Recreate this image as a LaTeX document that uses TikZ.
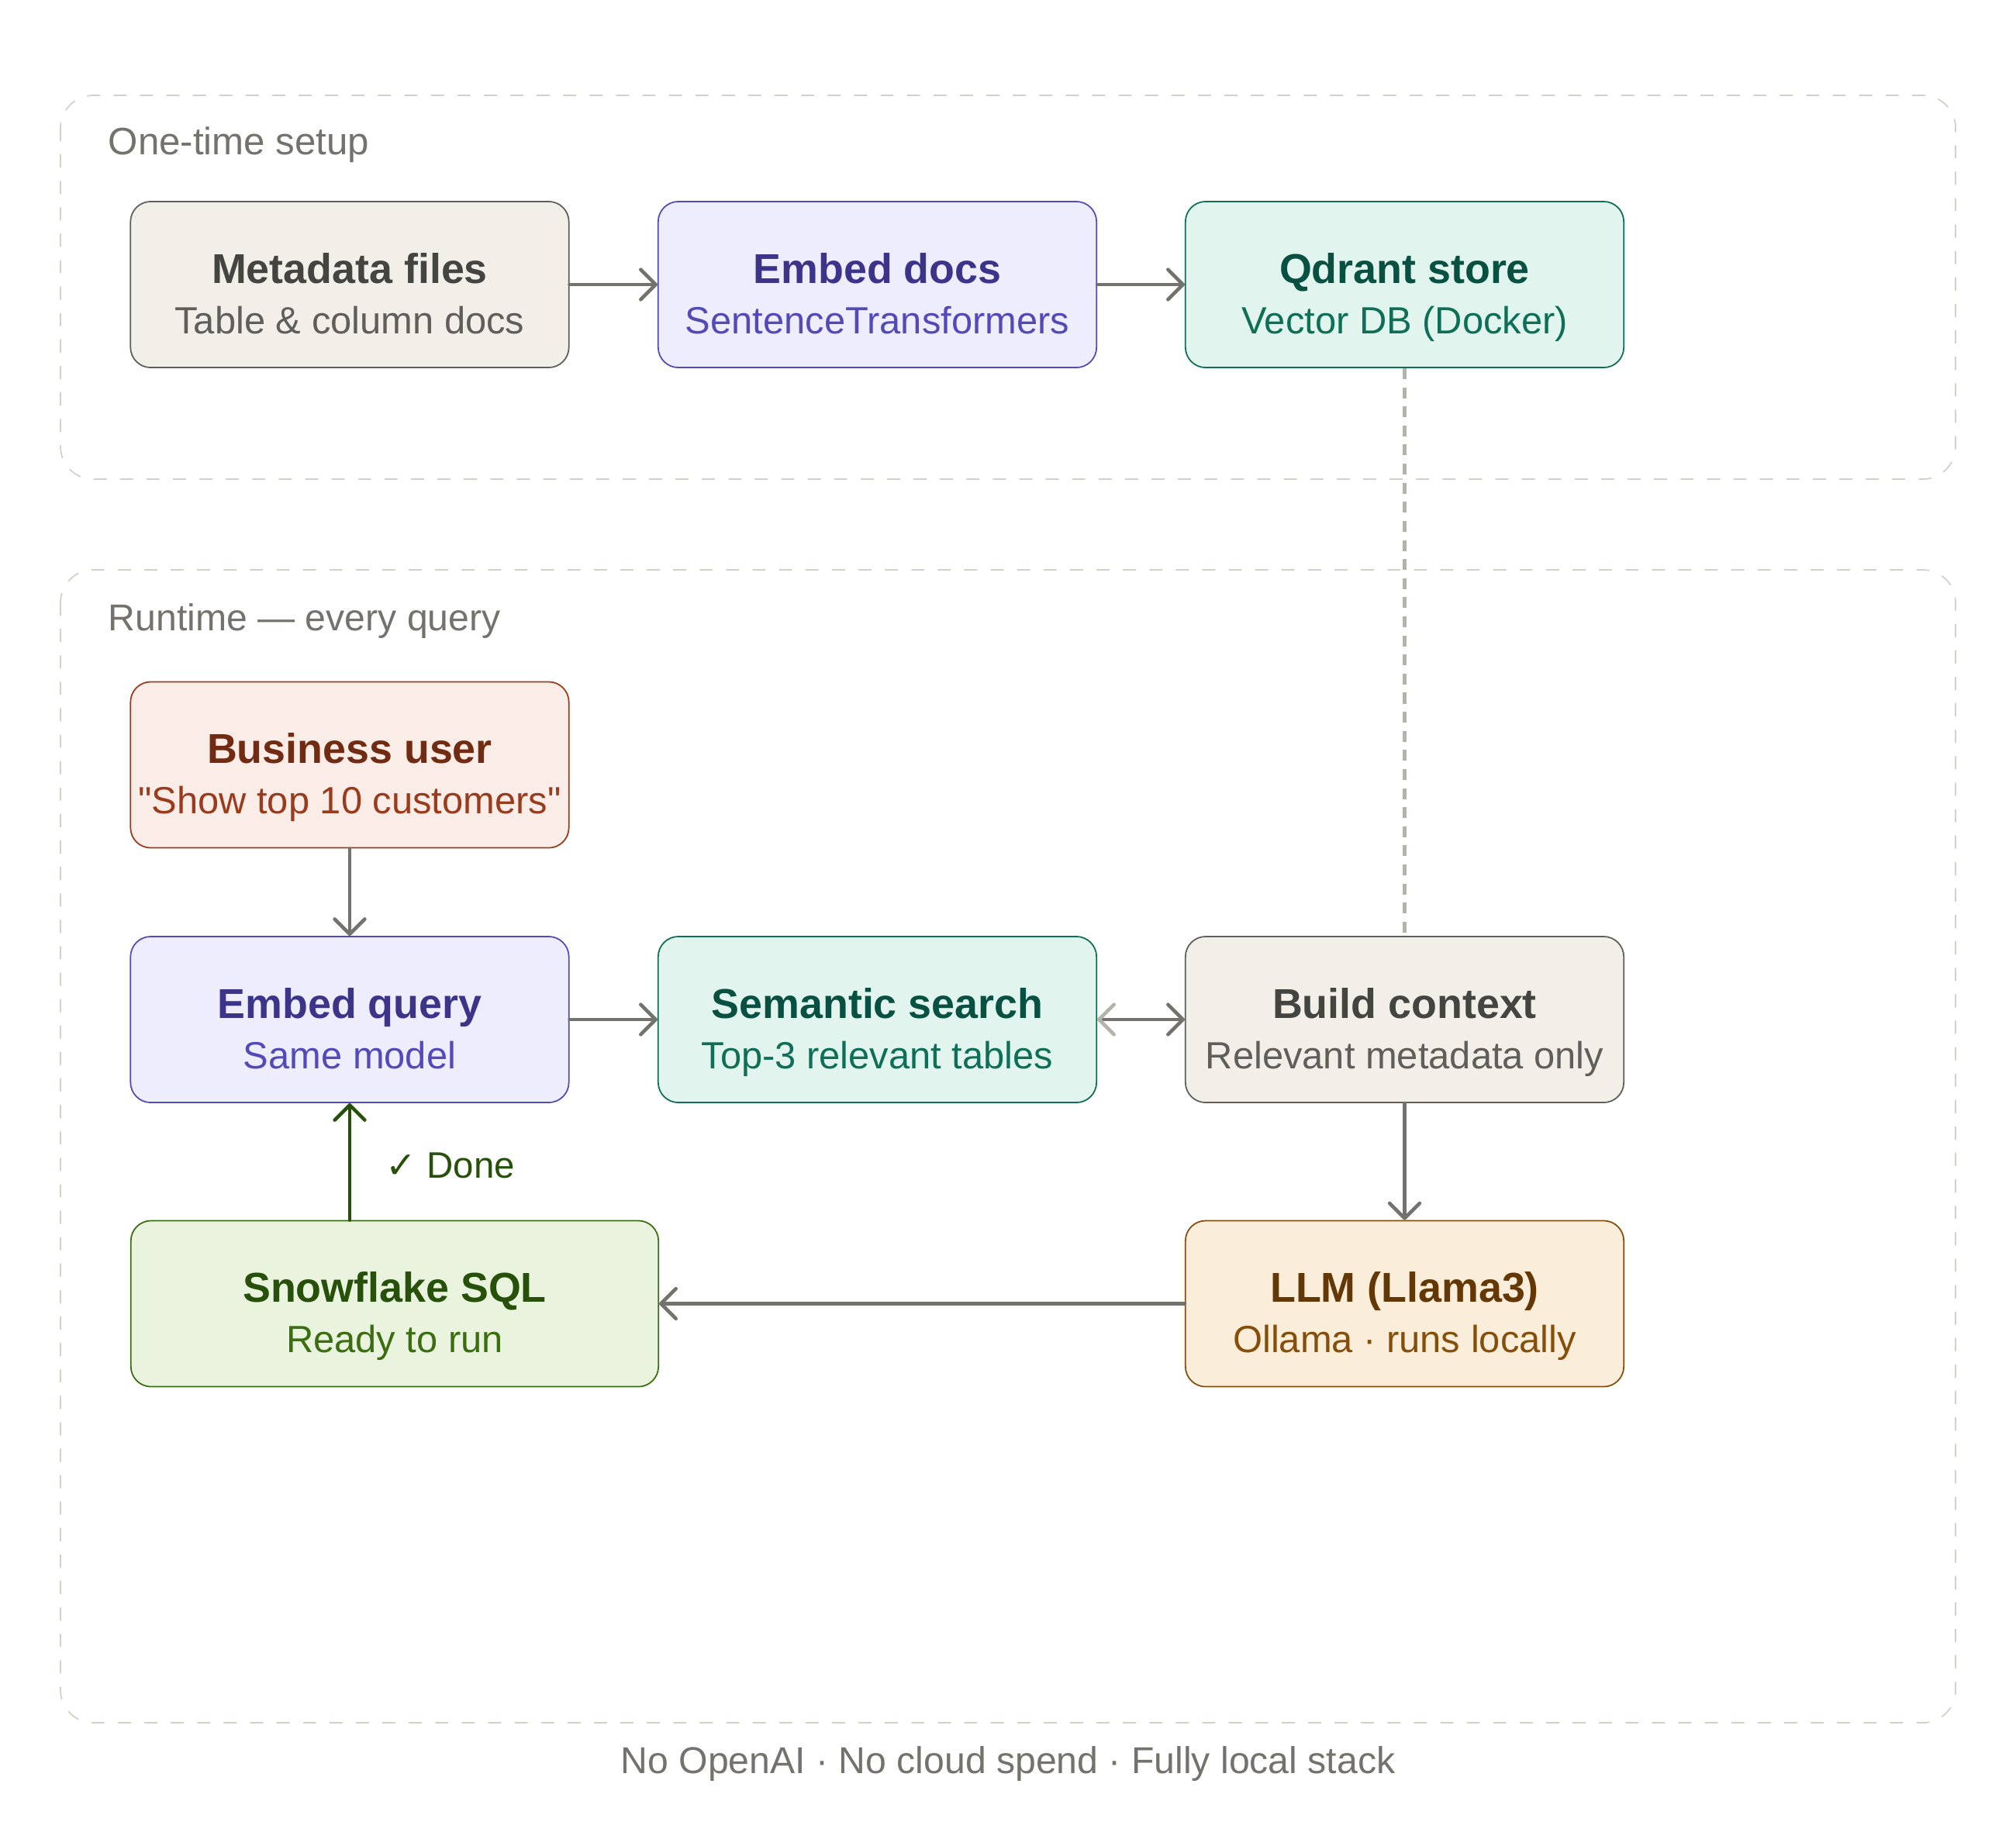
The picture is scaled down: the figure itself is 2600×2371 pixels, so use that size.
\documentclass[tikz,border=0pt]{standalone}
\usepackage{fontspec}
\setmainfont{Liberation Sans}
\newfontfamily\symbolfont{DejaVu Sans}
\usetikzlibrary{arrows.meta}

\definecolor{frameLine}{HTML}{D3D1C7}
\definecolor{labelGray}{HTML}{73726C}
\definecolor{arrowGray}{HTML}{73726C}
\definecolor{dashGray}{HTML}{B4B2A9}
\definecolor{grayFill}{HTML}{F1EFE8}
\definecolor{grayLine}{HTML}{5F5E5A}
\definecolor{grayTitle}{HTML}{444441}
\definecolor{purpleFill}{HTML}{EEEDFE}
\definecolor{purpleLine}{HTML}{534AB7}
\definecolor{purpleTitle}{HTML}{3C3489}
\definecolor{tealFill}{HTML}{E1F5EE}
\definecolor{tealLine}{HTML}{0F6E56}
\definecolor{tealTitle}{HTML}{085041}
\definecolor{coralFill}{HTML}{FAECE7}
\definecolor{coralLine}{HTML}{993C1D}
\definecolor{coralTitle}{HTML}{712B13}
\definecolor{greenFill}{HTML}{EAF3DE}
\definecolor{greenLine}{HTML}{3B6D11}
\definecolor{greenTitle}{HTML}{27500A}
\definecolor{amberFill}{HTML}{FAEEDA}
\definecolor{amberLine}{HTML}{854F0B}
\definecolor{amberTitle}{HTML}{633806}

% title line and sub line of a stage box
\newcommand{\stagetext}[3]{\begin{tabular}[t]{@{}c@{}}{\color{#1}\fontsize{15.3}{18.5}\selectfont\bfseries #2}\\#3\end{tabular}}

\tikzset{
  box/.style={rectangle, rounded corners=0.26cm, line width=0.5pt, inner sep=0pt,
    minimum width=5.65cm, minimum height=2.14cm, text height=9pt, text depth=10.1pt,
    font=\fontsize{13.9}{18.5}\selectfont},
  graybox/.style={box, fill=grayFill, draw=grayLine, text=grayLine},
  purplebox/.style={box, fill=purpleFill, draw=purpleLine, text=purpleLine},
  tealbox/.style={box, fill=tealFill, draw=tealLine, text=tealLine},
  coralbox/.style={box, fill=coralFill, draw=coralLine, text=coralLine},
  greenbox/.style={box, fill=greenFill, draw=greenLine, text=greenLine},
  amberbox/.style={box, fill=amberFill, draw=amberLine, text=amberLine},
  frame/.style={draw=frameLine, line width=0.5pt, dash pattern=on 4.8pt off 4.9pt, rounded corners=0.42cm},
  framelabel/.style={anchor=base west, inner sep=0pt, text=labelGray, font=\fontsize{14}{16}\selectfont},
  barb/.tip={Straight Barb[length=5.5pt, width=11pt, line cap=round, line join=round]},
  flow/.style={draw=arrowGray, line width=1.3pt, line cap=round, -barb}
}

\begin{document}
\begin{tikzpicture}[x=0.01cm, y=-0.01cm]
    \useasboundingbox[fill=white] (0,0) rectangle (2600,2371);

    % One-time setup
    \draw[frame] (78,123) rectangle (2522,618);
    \node[framelabel] (setuplabel) at (139,199) {One-time setup};

    \node[graybox] (meta) at (451,367) {\stagetext{grayTitle}{Metadata files}{Table \& column docs}};
    \node[purplebox] (embdocs) at (1131.5,367) {\stagetext{purpleTitle}{Embed docs}{SentenceTransformers}};
    \node[tealbox] (qdrant) at (1811.5,367) {\stagetext{tealTitle}{Qdrant store}{Vector DB (Docker)}};

    \draw[flow] (meta) -- (embdocs);
    \draw[flow] (embdocs) -- (qdrant);

    % Runtime
    \draw[frame] (78,735) rectangle (2522,2222);
    \node[framelabel, font=\fontsize{13.7}{16}\selectfont] (runtimelabel) at (139,813) {Runtime — every query};

    \node[coralbox] (user) at (451,986.5) {\stagetext{coralTitle}{Business user}{\textquotedbl Show top 10 customers\textquotedbl}};
    \node[purplebox] (embquery) at (451,1315) {\stagetext{purpleTitle}{Embed query}{Same model}};
    \node[tealbox] (search) at (1131.5,1315) {\stagetext{tealTitle}{Semantic search}{Top-3 relevant tables}};
    \node[graybox] (context) at (1811.5,1315) {\stagetext{grayTitle}{Build context}{Relevant metadata only}};
    \node[greenbox, minimum width=6.8cm] (sql) at (509,1681.5) {\stagetext{greenTitle}{Snowflake SQL}{Ready to run}};
    \node[amberbox] (llm) at (1811.5,1681.5) {\stagetext{amberTitle}{LLM (Llama3)}{Ollama · runs locally}};

    \draw[flow] (user) -- (embquery);
    \draw[flow] (embquery) -- (search);
    \draw[flow, {barb[color=dashGray]}-barb] (search) -- (context);
    \draw[flow] (context) -- (llm);
    \draw[flow] (llm) -- (sql);
    \draw[flow, draw=greenTitle] (sql.north -| embquery.south) -- (embquery.south);
    \node[anchor=base west, inner sep=0pt, text=greenTitle, font=\fontsize{13.5}{16}\selectfont] (done) at (497,1519) {{\symbolfont ✓} Done};

    % vector store feeds the context
    \draw[draw=dashGray, line width=1.3pt, dash pattern=on 4pt off 3pt] (qdrant) -- (context);

    % footer
    \node[anchor=base, inner sep=0pt, text=labelGray, font=\fontsize{13.7}{16}\selectfont] (footer) at (1300,2287) {No OpenAI · No cloud spend · Fully local stack};
\end{tikzpicture}
\end{document}
